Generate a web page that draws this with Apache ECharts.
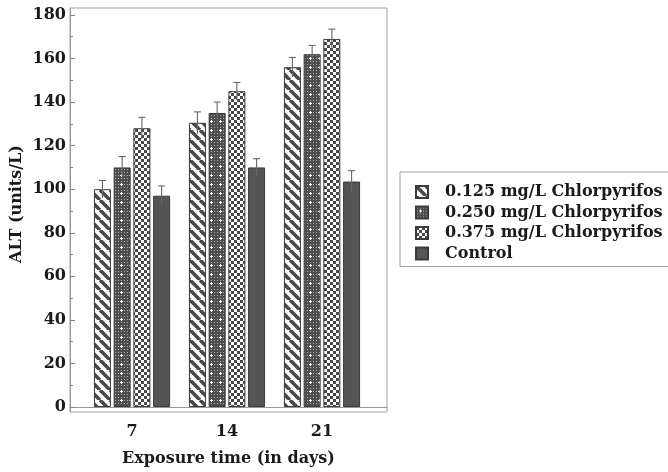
<!DOCTYPE html>
<html>
<head>
<meta charset="utf-8">
<script src="https://cdn.jsdelivr.net/npm/echarts@6/dist/echarts.min.js"></script>
<style>
html,body{margin:0;padding:0;background:#fff;}
#chart{width:668px;height:472px;}
</style>
</head>
<body>
<div id="chart"></div>
<script>
// ---- data ----
const days = [7, 14, 21];
const seriesNames = ['0.125 mg/L Chlorpyrifos', '0.250 mg/L Chlorpyrifos', '0.375 mg/L Chlorpyrifos', 'Control'];
const alt0125 = [100, 130.5, 156];
const alt0250 = [110, 135, 162];
const alt0375 = [128, 145, 169];
const altControl = [97, 110, 103.5];
const err0125 = [4, 5, 4.5];
const err0250 = [5, 5, 4];
const err0375 = [5, 4, 4.5];
const errControl = [4.5, 4, 5];
const yTicks = [0, 20, 40, 60, 80, 100, 120, 140, 160, 180];
const yMinorTicks = [10, 30, 50, 70, 90, 110, 130, 150, 170];

const values = [alt0125, alt0250, alt0375, altControl];
const errors = [err0125, err0250, err0375, errControl];

// ---- patterns ----
const DARK = '#484848';
function tile(size, draw) {
  const c = document.createElement('canvas');
  c.width = size; c.height = size;
  const ctx = c.getContext('2d');
  draw(ctx, size);
  return { image: c, repeat: 'repeat' };
}
const stripes = tile(10, (ctx, s) => {
  ctx.fillStyle = '#fff'; ctx.fillRect(0, 0, s, s);
  ctx.strokeStyle = DARK; ctx.lineWidth = 3.6;
  for (const k of [-1, 0, 1]) {
    ctx.beginPath(); ctx.moveTo(k * s, 0); ctx.lineTo(k * s + s, s); ctx.stroke();
  }
});
const dotted = tile(9, (ctx, s) => {
  ctx.fillStyle = '#4d4d4d'; ctx.fillRect(0, 0, s, s);
  ctx.fillStyle = '#b0b0b0';
  for (let x = 0; x < s; x += 3) for (let y = 0; y < s; y += 3) ctx.fillRect(x + 1, y + 1, 1, 1);
  ctx.fillStyle = '#fff';
  ctx.fillRect(3, 4, 3, 1); ctx.fillRect(4, 3, 1, 3);
});
const checker = tile(6, (ctx, s) => {
  ctx.fillStyle = '#fff'; ctx.fillRect(0, 0, s, s);
  ctx.fillStyle = DARK;
  ctx.fillRect(0, 0, 3, 3); ctx.fillRect(3, 3, 3, 3);
});
const fills = [stripes, dotted, checker, '#555555'];

const BAR_W = 17;
const BAR_GAP = 0.16;
const STEP = BAR_W * (1 + BAR_GAP);

const FONT = 'DejaVu Serif';

const barSeries = seriesNames.map((name, i) => ({
  name: name,
  type: 'bar',
  barWidth: BAR_W,
  barGap: (BAR_GAP * 100) + '%',
  data: days.map((d, k) => [d, values[i][k]]),
  itemStyle: { color: fills[i], borderColor: '#3a3a3a', borderWidth: 1 },
  emphasis: { disabled: true },
  z: 2
}));

const errData = [];
seriesNames.forEach((n, i) => {
  days.forEach((d, k) => {
    errData.push([d, values[i][k] - errors[i][k], values[i][k] + errors[i][k], i]);
  });
});

const errSeries = {
  type: 'custom',
  data: errData,
  encode: { x: 0, y: [1, 2] },
  z: 5,
  silent: true,
  renderItem: function (params, api) {
    const x = api.value(0);
    const s = api.value(3);
    const lo = api.coord([x, api.value(1)]);
    const hi = api.coord([x, api.value(2)]);
    const off = (s - 1.5) * STEP;
    const cx = hi[0] + off;
    const cap = 3.5;
    const style = { stroke: '#666', lineWidth: 1.1, fill: null };
    return {
      type: 'group',
      children: [
        { type: 'line', shape: { x1: cx, y1: lo[1], x2: cx, y2: hi[1] }, style: style },
        { type: 'line', shape: { x1: cx - cap, y1: hi[1], x2: cx + cap, y2: hi[1] }, style: style }
      ]
    };
  }
};

const chart = echarts.init(document.getElementById('chart'));
chart.setOption({
  animation: false,
  backgroundColor: '#fff',
  grid: {
    left: 70, top: 8, width: 317, height: 405,
    show: true, borderColor: '#ab9f9f', borderWidth: 1, backgroundColor: 'transparent'
  },
  legend: {
    data: seriesNames,
    orient: 'vertical',
    left: 400, top: 172,
    padding: [12, 10, 5, 15],
    itemWidth: 12, itemHeight: 12,
    itemGap: 4.5,
    borderColor: '#a8a0a0', borderWidth: 1,
    icon: 'rect',
    selectedMode: false,
    formatter: function (n) { return '{t|' + n + '}'; },
    textStyle: {
      fontFamily: FONT, fontWeight: 'bold', fontSize: 16, color: '#1a1a1a',
      rich: { t: { fontFamily: FONT, fontWeight: 'bold', fontSize: 16, lineHeight: 16, color: '#1a1a1a', padding: [0, 0, 0, 12] } }
    }
  },
  xAxis: {
    type: 'value',
    min: 2.43, max: 25.79,
    axisLine: { show: true, lineStyle: { color: '#a09595' } },
    axisTick: { show: false },
    splitLine: { show: false },
    axisLabel: {
      customValues: days,
      fontFamily: FONT, fontWeight: 'bold', fontSize: 16, color: '#1a1a1a', margin: 12
    },
    name: 'Exposure time (in days)',
    nameLocation: 'middle',
    nameGap: 39,
    nameTextStyle: { fontFamily: FONT, fontWeight: 'bold', fontSize: 16, color: '#1a1a1a' }
  },
  yAxis: [{
    type: 'value',
    min: -2.3, max: 183.2,
    axisLine: { show: true, lineStyle: { color: '#a09595' } },
    axisTick: { show: true, inside: true, length: 5, customValues: yTicks, lineStyle: { color: '#8a8080' } },
    axisLabel: {
      customValues: yTicks,
      fontFamily: FONT, fontWeight: 'bold', fontSize: 16, color: '#1a1a1a', margin: 4
    },
    splitLine: { show: false },
    name: 'ALT (units/L)',
    nameLocation: 'middle',
    nameGap: 45,
    nameTextStyle: { fontFamily: FONT, fontWeight: 'bold', fontSize: 16, color: '#1a1a1a', padding: [0, 0, 0, 12] }
  }, {
    type: 'value',
    position: 'left',
    min: -2.3, max: 183.2,
    axisLine: { show: false },
    axisTick: { show: true, inside: true, length: 3, customValues: yMinorTicks, lineStyle: { color: '#8a8080' } },
    axisLabel: { show: false },
    splitLine: { show: false }
  }],
  series: barSeries.concat([errSeries])
});
</script>
</body>
</html>
